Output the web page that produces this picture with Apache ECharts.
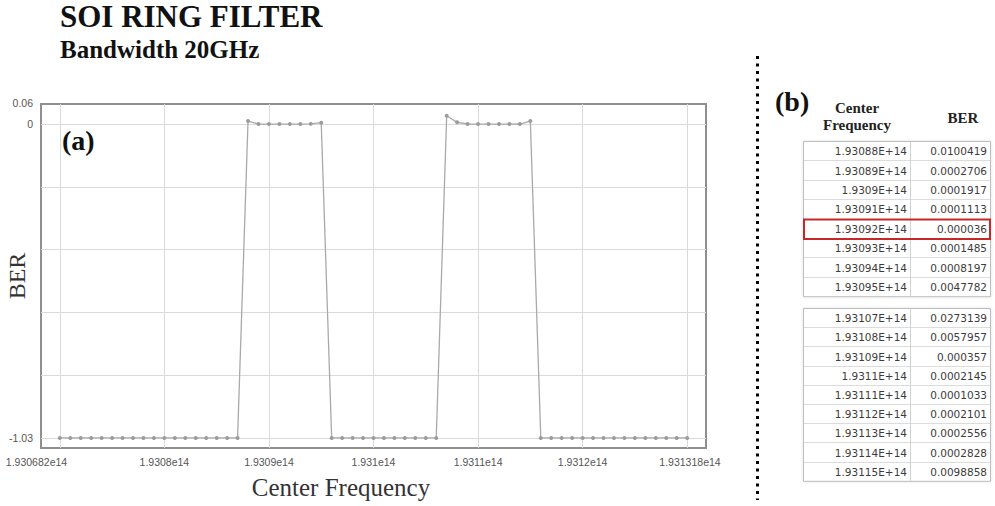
<!DOCTYPE html>
<html>
<head>
<meta charset="utf-8">
<title>SOI Ring Filter</title>
<script src="https://cdn.jsdelivr.net/npm/echarts@6/dist/echarts.min.js"></script>
<style>
  html, body { margin: 0; padding: 0; background: #ffffff; }
  #chart { width: 995px; height: 506px; }
</style>
</head>
<body>
<div id="chart"></div>
<script>
// Sweep of the ring filter centre frequency (Hz) and the measured BER.
// Out-of-band points (no usable signal) sit on the floor level.
const leftStopFreq = [1.9307e14, 1.93071e14, 1.93072e14, 1.93073e14, 1.93074e14, 1.93075e14,
  1.93076e14, 1.93077e14, 1.93078e14, 1.93079e14, 1.9308e14, 1.93081e14, 1.93082e14,
  1.93083e14, 1.93084e14, 1.93085e14, 1.93086e14, 1.93087e14];
const leftStopBer = [-1.03, -1.03, -1.03, -1.03, -1.03, -1.03, -1.03, -1.03, -1.03,
  -1.03, -1.03, -1.03, -1.03, -1.03, -1.03, -1.03, -1.03, -1.03];

// First passband
const bandAFreq = [1.93088e14, 1.93089e14, 1.9309e14, 1.93091e14, 1.93092e14, 1.93093e14,
  1.93094e14, 1.93095e14];
const bandABer = [0.0100419, 0.0002706, 0.0001917, 0.0001113, 0.000036, 0.0001485,
  0.0008197, 0.0047782];

const midStopFreq = [1.93096e14, 1.93097e14, 1.93098e14, 1.93099e14, 1.931e14, 1.93101e14,
  1.93102e14, 1.93103e14, 1.93104e14, 1.93105e14, 1.93106e14];
const midStopBer = [-1.03, -1.03, -1.03, -1.03, -1.03, -1.03, -1.03, -1.03, -1.03, -1.03, -1.03];

// Second passband
const bandBFreq = [1.93107e14, 1.93108e14, 1.93109e14, 1.9311e14, 1.93111e14, 1.93112e14,
  1.93113e14, 1.93114e14, 1.93115e14];
const bandBBer = [0.0273139, 0.0057957, 0.000357, 0.0002145, 0.0001033, 0.0002101,
  0.0002556, 0.0002828, 0.0098858];

const rightStopFreq = [1.93116e14, 1.93117e14, 1.93118e14, 1.93119e14, 1.9312e14, 1.93121e14,
  1.93122e14, 1.93123e14, 1.93124e14, 1.93125e14, 1.93126e14, 1.93127e14, 1.93128e14,
  1.93129e14, 1.9313e14];
const rightStopBer = [-1.03, -1.03, -1.03, -1.03, -1.03, -1.03, -1.03, -1.03, -1.03,
  -1.03, -1.03, -1.03, -1.03, -1.03, -1.03];

// Axis extents, gridlines and labelled ticks
const xMin = 1.930682e14;
const xMax = 1.931318e14;
const xGridValues = [1.9307e14, 1.9308e14, 1.9309e14, 1.931e14, 1.9311e14, 1.9312e14, 1.9313e14];
const xLabelValues = [1.930682e14, 1.9308e14, 1.9309e14, 1.931e14, 1.9311e14, 1.9312e14, 1.931318e14];
const yMin = -1.063;
const yMax = 0.066;
const yGridValues = [-1.03, -0.824, -0.618, -0.412, -0.206, 0];
const yLabelValues = [-1.03, 0, 0.06];

function pairs(xs, ys) { return xs.map((x, i) => [x, ys[i]]); }

const sweep = [].concat(
  pairs(leftStopFreq, leftStopBer),
  pairs(bandAFreq, bandABer),
  pairs(midStopFreq, midStopBer),
  pairs(bandBFreq, bandBBer),
  pairs(rightStopFreq, rightStopBer)
);

function sci14(v) {
  return parseFloat((v / 1e14).toPrecision(7)) + 'e14';
}

const serif = '"Liberation Serif", "Times New Roman", serif';
const sans = '"Liberation Sans", Arial, sans-serif';
const cellFont = '"DejaVu Sans", Verdana, sans-serif';

// ---- Table (b) built from the passband arrays ----
const tableGraphics = [];
function buildTable(freqs, bers, top, rowH, highlightIdx) {
  const left = 803, divider = 910, right = 990;
  const h = rowH * freqs.length;
  tableGraphics.push({
    type: 'rect', shape: { x: left + 0.5, y: top + 0.5, width: right - left, height: h },
    style: { fill: '#ffffff', stroke: '#bdbdbd', lineWidth: 1,
      shadowBlur: 3, shadowColor: 'rgba(0,0,0,0.12)' }
  });
  for (let i = 1; i < freqs.length; i++) {
    const y = Math.round(top + i * rowH) + 0.5;
    tableGraphics.push({
      type: 'line', shape: { x1: left + 1, y1: y, x2: right, y2: y },
      style: { stroke: '#dcdcdc', lineWidth: 1 }
    });
  }
  tableGraphics.push({
    type: 'line', shape: { x1: divider + 0.5, y1: top + 1, x2: divider + 0.5, y2: top + h },
    style: { stroke: '#d2d2d2', lineWidth: 1 }
  });
  freqs.forEach((f, i) => {
    const cy = top + (i + 0.5) * rowH + 0.5;
    tableGraphics.push({
      type: 'text', x: divider - 3, y: cy,
      style: { text: f.toExponential().toUpperCase(), align: 'right', verticalAlign: 'middle',
        fill: '#3c3c3c', font: '10.5px ' + cellFont }
    });
    tableGraphics.push({
      type: 'text', x: right - 3, y: cy,
      style: { text: String(bers[i]), align: 'right', verticalAlign: 'middle',
        fill: '#3c3c3c', font: '10.5px ' + cellFont }
    });
  });
  if (highlightIdx >= 0) {
    tableGraphics.push({
      type: 'rect',
      shape: { x: left + 1, y: top + highlightIdx * rowH + 1, width: right - left - 1, height: rowH },
      style: { fill: 'none', stroke: '#c62828', lineWidth: 2 }
    });
  }
}
// highlight the lowest BER of the first passband
const bestA = bandABer.indexOf(Math.min.apply(null, bandABer));
buildTable(bandAFreq, bandABer, 141, 19.4, bestA);
buildTable(bandBFreq, bandBBer, 308, 19.2, -1);

const chart = echarts.init(document.getElementById('chart'), null, { renderer: 'svg' });

chart.setOption({
  backgroundColor: '#ffffff',
  animation: false,
  grid: {
    left: 41, right: 289, top: 104, bottom: 58,
    containLabel: false,
    outerBoundsMode: 'none',
    show: true, borderColor: '#8f8f8f', borderWidth: 2, backgroundColor: '#ffffff'
  },
  xAxis: {
    type: 'value',
    min: xMin, max: xMax,
    name: 'Center Frequency',
    nameLocation: 'middle',
    nameGap: 27,
    nameMoveOverlap: false,
    nameTextStyle: { fontFamily: serif, fontSize: 25, color: '#333333', padding: [0, 65, 0, 0] },
    axisLine: { show: false },
    axisTick: { show: false, customValues: xGridValues },
    splitLine: { show: true, lineStyle: { color: '#dadada', width: 1 } },
    axisLabel: {
      customValues: xLabelValues,
      margin: 8,
      hideOverlap: false,
      fontFamily: sans, fontSize: 10.5, color: '#555555',
      formatter: function (v) {
        if (v === xMin) return '{lo|' + sci14(v) + '}';
        if (v === xMax) return '{hi|' + sci14(v) + '}';
        return sci14(v);
      },
      rich: {
        lo: { fontFamily: sans, fontSize: 10.5, color: '#555555', padding: [0, 9, 0, 0] },
        hi: { fontFamily: sans, fontSize: 10.5, color: '#555555', padding: [0, 32, 0, 0] }
      }
    }
  },
  yAxis: {
    type: 'value',
    min: yMin, max: yMax,
    name: 'BER',
    nameLocation: 'middle',
    nameGap: 12,
    nameMoveOverlap: false,
    nameTextStyle: { fontFamily: serif, fontSize: 24, color: '#333333' },
    axisLine: { show: false },
    axisTick: { show: false, customValues: yGridValues },
    splitLine: { show: true, lineStyle: { color: '#dadada', width: 1 } },
    axisLabel: {
      customValues: yLabelValues,
      margin: 8,
      hideOverlap: false,
      fontFamily: sans, fontSize: 10.5, color: '#555555',
      formatter: function (v) {
        if (v === 0.06) return '{top|0.06}';
        return String(v);
      },
      rich: {
        top: { fontFamily: sans, fontSize: 10.5, color: '#555555', padding: [0, 0, 5, 0] }
      }
    }
  },
  series: [{
    type: 'line',
    data: sweep,
    symbol: 'circle',
    symbolSize: 4,
    lineStyle: { color: '#a9a9a9', width: 1.3 },
    itemStyle: { color: '#9c9c9c' },
    z: 3
  }],
  graphic: [
    { type: 'text', left: 60, top: 1,
      style: { text: 'SOI RING FILTER', font: 'bold 31px ' + serif, fill: '#111111' } },
    { type: 'text', left: 60, top: 37,
      style: { text: 'Bandwidth 20GHz', font: 'bold 25px ' + serif, fill: '#111111' } },
    { type: 'text', left: 62, top: 126,
      style: { text: '(a)', font: 'bold 28px ' + serif, fill: '#111111' } },
    { type: 'text', left: 775, top: 87,
      style: { text: '(b)', font: 'bold 28px ' + serif, fill: '#111111' } },
    { type: 'text', x: 857, y: 108,
      style: { text: 'Center', align: 'center', verticalAlign: 'middle',
        font: 'bold 15px ' + serif, fill: '#222222' } },
    { type: 'text', x: 857, y: 125,
      style: { text: 'Frequency', align: 'center', verticalAlign: 'middle',
        font: 'bold 15px ' + serif, fill: '#222222' } },
    { type: 'text', x: 963, y: 118,
      style: { text: 'BER', align: 'center', verticalAlign: 'middle',
        font: 'bold 15px ' + serif, fill: '#222222' } },
    { type: 'line', shape: { x1: 757.5, y1: 56, x2: 757.5, y2: 500 },
      style: { stroke: '#000000', lineWidth: 3, lineDash: [3, 4.5] } }
  ].concat(tableGraphics)
});
</script>
</body>
</html>
